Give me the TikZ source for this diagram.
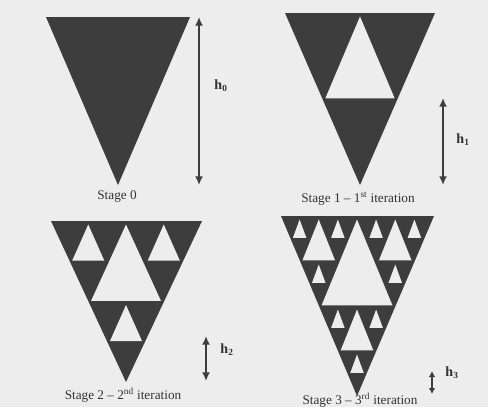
\documentclass[tikz,border=0pt]{standalone}
\usepackage{fontspec}
\setmainfont{Liberation Serif}
\usetikzlibrary{arrows.meta}

\definecolor{paper}{gray}{0.93}
\definecolor{ink}{gray}{0.24}

% paper-coloured holes of a Sierpinski gasket: depth, centre x, top y, width, height
% (each hole sits a little inside its ideal outline)
\newcommand{\sierholes}[5]{%
  \ifnum#1>0
    \begingroup
    \pgfmathsetmacro{\sqw}{#4/4}%
    \pgfmathsetmacro{\shh}{#5/2}%
    \pgfmathsetmacro{\shw}{#4/2}%
    \pgfmathsetmacro{\slx}{#2-\sqw}%
    \pgfmathsetmacro{\srx}{#2+\sqw}%
    \pgfmathsetmacro{\smy}{#3+\shh}%
    \pgfmathtruncatemacro{\snd}{#1-1}%
    \fill[hole] (#2,#3+3.5) -- (\slx+2.8,\smy-0.6) -- (\srx-2.8,\smy-0.6) -- cycle;
    \edef\snext{%
      \noexpand\sierholes{\snd}{\slx}{#3}{\shw}{\shh}%
      \noexpand\sierholes{\snd}{\srx}{#3}{\shw}{\shh}%
      \noexpand\sierholes{\snd}{#2}{\smy}{\shw}{\shh}}%
    \snext
    \endgroup
  \fi}

\begin{document}
\begin{tikzpicture}[
  x=0.03cm, y=-0.03cm,
  tri/.style={fill=ink},
  hole/.style={fill=paper},
  harrow/.style={draw=ink, line width=1.8pt, {Latex[length=2.6mm,width=2.4mm]}-{Latex[length=2.6mm,width=2.4mm]}},
  stagelab/.style={text=black!80, font=\fontsize{11.3}{13}\selectfont, inner sep=1pt},
  hlab/.style={text=black!80, font=\fontsize{12}{14}\selectfont\bfseries, inner sep=1pt}
]

  % background
  \fill[paper] (0,0) rectangle (488,407);
  \useasboundingbox (0,0) rectangle (488,407);

  % ==================== STAGE 0 ====================
  \fill[tri] (46,17) -- (190,17) -- (118,185) -- cycle;
  \coordinate (h0top) at (199,17);
  \coordinate (h0bot) at (199,185);
  \draw[harrow] (h0top) -- (h0bot);
  \node[hlab] (hlab0) at (221,86) {h\textsubscript{0}};
  \node[stagelab] (lab0) at (117,197) {Stage 0};

  % ==================== STAGE 1 ====================
  \fill[tri] (285,13) -- (435,13) -- (360,185) -- cycle;
  \sierholes{1}{360}{13}{150}{172}
  \coordinate (h1top) at (443,98);
  \coordinate (h1bot) at (443,185);
  \draw[harrow] (h1top) -- (h1bot);
  \node[hlab] (hlab1) at (463,140) {h\textsubscript{1}};
  \node[stagelab] (lab1) at (358,199) {Stage 1 -- 1\textsuperscript{st} iteration};

  % ==================== STAGE 2 ====================
  \fill[tri] (51,221) -- (202,221) -- (126,382) -- cycle;
  \sierholes{2}{126}{221}{151}{161}
  \coordinate (h2top) at (206,336);
  \coordinate (h2bot) at (206,381);
  \draw[harrow] (h2top) -- (h2bot);
  \node[hlab] (hlab2) at (227,350) {h\textsubscript{2}};
  \node[stagelab] (lab2) at (123,395) {Stage 2 -- 2\textsuperscript{nd} iteration};

  % ==================== STAGE 3 ====================
  \fill[tri] (281,216) -- (434,216) -- (357,396) -- cycle;
  \sierholes{3}{357}{216}{153}{180}
  \coordinate (h3top) at (432,371);
  \coordinate (h3bot) at (432,394);
  \draw[harrow, {Latex[length=1.8mm,width=2mm]}-{Latex[length=1.8mm,width=2mm]}] (h3top) -- (h3bot);
  \node[hlab] (hlab3) at (452,373) {h\textsubscript{3}};
  \node[stagelab] (lab3) at (360,400) {Stage 3 -- 3\textsuperscript{rd} iteration};

\end{tikzpicture}
\end{document}
